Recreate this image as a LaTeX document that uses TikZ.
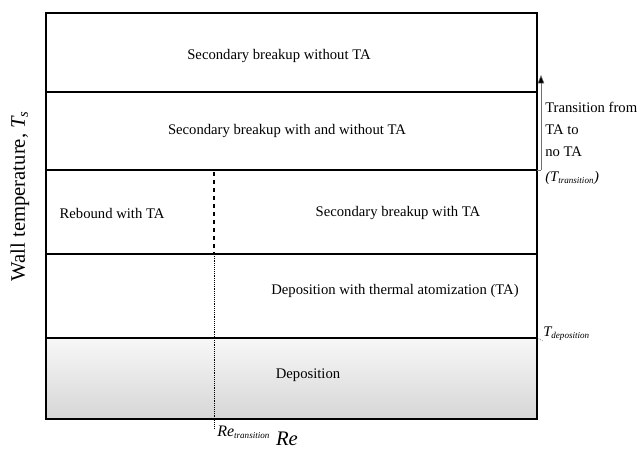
\documentclass[tikz,border=0pt]{standalone}
\usepackage{fontspec}
\setmainfont{Liberation Serif}
\usetikzlibrary{arrows.meta,positioning}
\definecolor{bandgray}{HTML}{D6D6D6}
\definecolor{guide}{HTML}{707070}
\newcommand{\tinysub}[1]{\textsubscript{\fontsize{6.8}{8}\selectfont #1}}

\begin{document}
\begin{tikzpicture}[x=0.75pt, y=-0.75pt,
  frame/.style={draw=black, line width=1.4pt},
  sep/.style={draw=black, line width=1.1pt},
  regime/.style={font=\fontsize{11}{13}\selectfont, inner sep=1pt},
  side/.style={font=\fontsize{11}{16.5}\selectfont, align=left, anchor=north west, inner sep=0pt},
  axis/.style={font=\fontsize{15.5}{17}\selectfont},
  arr/.style={-{Triangle[length=2.2mm, width=1.7mm, fill=black]}, thin, guide}]
  \useasboundingbox (0,0) rectangle (638,450);
  % bottom band with gradient
  \shade[top color=white!97!black, bottom color=bandgray] (46,338) rectangle (537,419);
  % separators
  \draw[sep] (46,92) -- (537,92);
  \draw[sep] (46,170) -- (537,170);
  \draw[sep] (46,254) -- (537,254);
  \draw[sep] (46,338) -- (537,338);
  \draw[frame] (46,13) rectangle (537,419);
  % Re transition
  \draw[line width=1.3pt, dashed] (214,172) -- (214,254);
  \draw[densely dotted, thin] (214,254) -- (214,428);
  % regime labels
  \node[regime] (nota) at (279,56) {Secondary breakup without TA};
  \node[regime] (mixed) at (287,131) {Secondary breakup with and without TA};
  \node[regime] (rebound) at (112,213) {Rebound with TA};
  \node[regime] (withta) at (398,213) {Secondary breakup with TA};
  \node[regime] (depta) at (395,291) {Deposition with thermal atomization (TA)};
  \node[regime] (dep) at (308,375) {Deposition};
  % transition arrow
  \coordinate (tbase) at (541,170);
  \coordinate (ttop) at (541,75);
  \draw[guide, thin] (537,170) -- (tbase);
  \draw[arr] (tbase) -- (ttop);
  \node[side] (trans) at (545,102) {Transition from\\TA to\\no TA};
  \node[regime, anchor=west, inner sep=0pt] (ttrans) at (545,178) {\textit{(T\tinysub{transition})}};
  % deposition temperature
  \node[regime, anchor=west, inner sep=0pt] (tdep) at (543,334) {\textit{T\tinysub{deposition}}};
  \draw[densely dotted, thin] (537,338) -- (tdep.south west);
  % axes
  \node[axis, rotate=90] (ylab) at (20,196) {Wall temperature, \textit{T\textsubscript{s}}};
  \node[axis] (xlab) at (287,439) {\textit{Re}};
  \node[anchor=west, inner sep=0pt, font=\fontsize{12}{14}\selectfont] (retr) at (217,432) {\textit{Re\tinysub{transition}}};
\end{tikzpicture}
\end{document}
